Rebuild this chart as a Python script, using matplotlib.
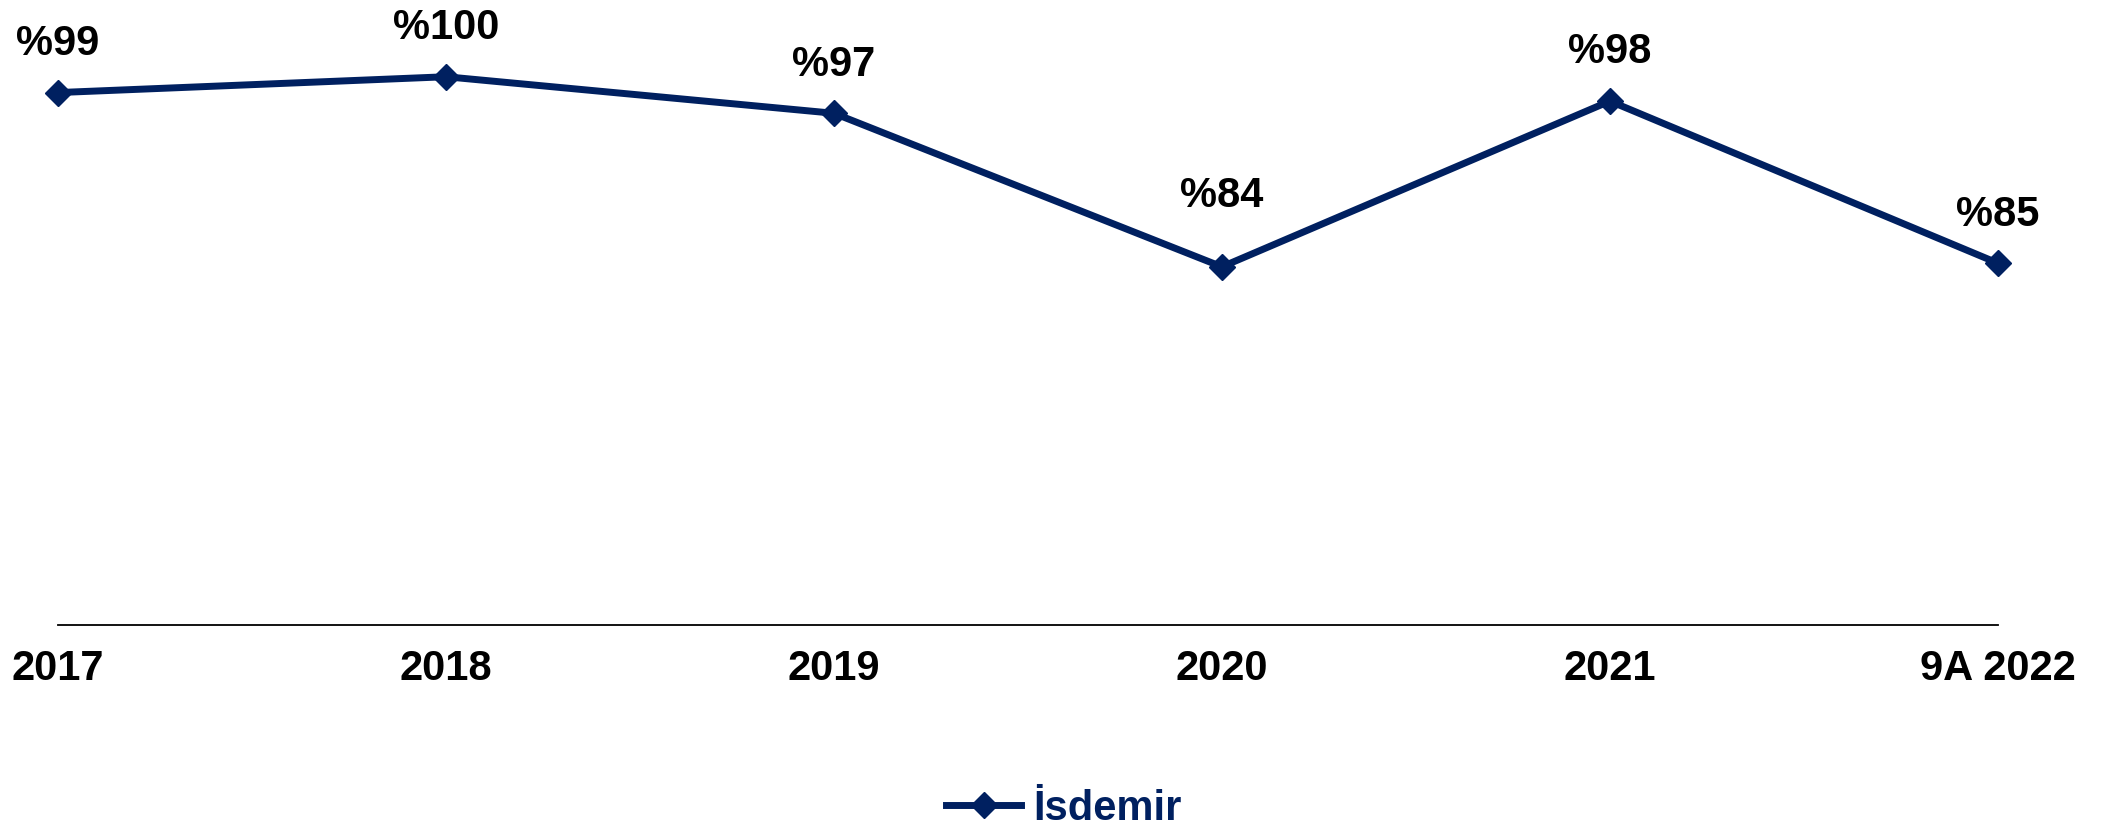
import numpy as np
import matplotlib.pyplot as plt

plt.rcParams['font.family'] = ['Liberation Sans', 'DejaVu Sans']

# data
years = ['2017', '2018', '2019', '2020', '2021', '9A 2022']
isdemir = [98.7, 100.0, 97.0, 84.4, 98.0, 84.7]
labels = ['%99', '%100', '%97', '%84', '%98', '%85']
label_offsets = [35, 35, 35, 51, 35, 35]  # points above the marker

navy = '#002060'

fig = plt.figure(figsize=(21.03, 8.34), dpi=100)
ax = fig.add_axes([0.0276, 0.2506, 0.9224, 0.672])

x = np.arange(len(years))
ax.plot(x, isdemir, color=navy, lw=5, marker='D', markersize=13,
        label='İsdemir', clip_on=False)

for xi, v, lab, off in zip(x, isdemir, labels, label_offsets):
    ax.annotate(lab, (xi, v), xytext=(0, off), textcoords='offset points',
                ha='center', va='center', fontsize=30, fontweight='bold',
                color='black')

ax.set_xlim(0, len(years) - 1)
ax.set_ylim(55, 101)
ax.set_xticks(x)
ax.set_xticklabels(years, fontsize=30, fontweight='bold')
ax.tick_params(axis='x', length=0, pad=17)
ax.set_yticks([])
for s in ['top', 'right', 'left']:
    ax.spines[s].set_visible(False)
ax.spines['bottom'].set_linewidth(1.3)
ax.spines['bottom'].set_color('black')

leg = fig.legend(loc='center', bbox_to_anchor=(0.506, 0.03), frameon=False,
                 prop={'size': 30, 'weight': 'bold'}, handlelength=1.8,
                 handletextpad=0.3)
for t in leg.get_texts():
    t.set_color(navy)

fig.savefig('out.png', dpi=100)
